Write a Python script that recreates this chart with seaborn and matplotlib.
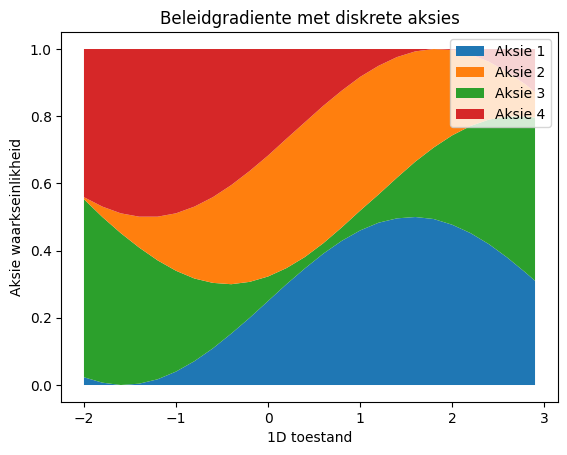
import matplotlib
matplotlib.use("Agg")
import matplotlib.pyplot as plt
import seaborn as sns

# 1D state values
toestand = [-2.0, -1.8, -1.6, -1.4, -1.2, -1.0, -0.8, -0.6, -0.4, -0.2,
            0.0, 0.2, 0.4, 0.6, 0.8, 1.0, 1.2, 1.4, 1.6, 1.8,
            2.0, 2.2, 2.4, 2.6, 2.8, 2.9]

# action probabilities
aksie_1 = [0.023, 0.007, 0.000, 0.004, 0.017, 0.040, 0.071, 0.109, 0.153, 0.200,
           0.250, 0.300, 0.347, 0.391, 0.429, 0.460, 0.483, 0.496, 0.500, 0.494,
           0.477, 0.452, 0.419, 0.379, 0.334, 0.310]
aksie_2 = [0.006, 0.031, 0.059, 0.092, 0.130, 0.171, 0.214, 0.255, 0.295, 0.330,
           0.360, 0.385, 0.401, 0.409, 0.407, 0.398, 0.383, 0.359, 0.328, 0.293,
           0.254, 0.213, 0.172, 0.132, 0.095, 0.076]
aksie_3 = [0.530, 0.493, 0.452, 0.405, 0.354, 0.300, 0.246, 0.195, 0.147, 0.107,
           0.073, 0.048, 0.034, 0.031, 0.040, 0.059, 0.084, 0.121, 0.165, 0.213,
           0.266, 0.319, 0.371, 0.420, 0.465, 0.486]
aksie_4 = [0.441, 0.469, 0.489, 0.499, 0.499, 0.489, 0.469, 0.441, 0.405, 0.363,
           0.317, 0.267, 0.218, 0.169, 0.124, 0.083, 0.050, 0.024, 0.007, 0.000,
           0.003, 0.016, 0.038, 0.069, 0.106, 0.128]

labels = ["Aksie 1", "Aksie 2", "Aksie 3", "Aksie 4"]

pal = sns.color_palette("tab10")

fig = plt.figure(figsize=(5.67, 4.55), dpi=100)
ax = fig.add_subplot(111)
fig.subplots_adjust(left=0.1083, right=0.9834, bottom=0.1169, top=0.9292)

# visual stacking order: Aksie 1, Aksie 3, Aksie 2, Aksie 4
polys = ax.stackplot(toestand, aksie_1, aksie_3, aksie_2, aksie_4,
                     colors=[pal[0], pal[2], pal[1], pal[3]],
                     labels=[labels[0], labels[2], labels[1], labels[3]])

handles = [polys[0], polys[2], polys[1], polys[3]]
ax.legend(handles, labels, loc="upper right")

ax.set_ylim(-0.05, 1.05)
ax.set_title("Beleidgradiente met diskrete aksies")
ax.set_xlabel("1D toestand")
ax.set_ylabel("Aksie waarkseinlikheid")

fig.savefig("out.png", dpi=100)
